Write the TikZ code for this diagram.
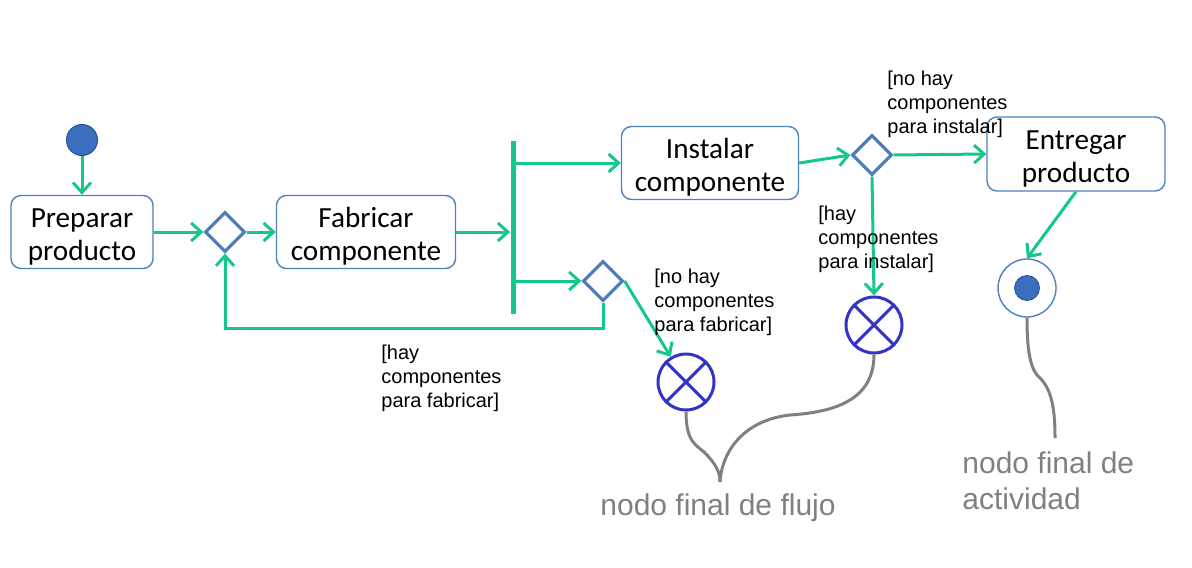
\documentclass[tikz,border=0pt]{standalone}
\usepackage{fontspec}
\setmainfont{Liberation Sans}
\newfontfamily\boxfont{Carlito}
\usetikzlibrary{arrows.meta,shapes.geometric,calc}
\definecolor{flowgreen}{RGB}{20,200,140}
\definecolor{decblue}{RGB}{79,125,185}
\definecolor{boxblue}{RGB}{79,129,189}
\definecolor{ffblue}{RGB}{51,51,200}
\definecolor{notegray}{RGB}{128,128,128}
\definecolor{dotblue}{RGB}{58,110,190}
\definecolor{dotedge}{RGB}{40,80,150}
\newcommand{\topstrut}{\rule{0pt}{14.5pt}}
\tikzset{
  act/.style={draw=boxblue, line width=0.7pt, rounded corners=5pt, fill=white, align=center,
    font=\boxfont\fontsize{14.6}{16.5}\selectfont, inner sep=0pt, minimum height=36.5pt},
  dec/.style={diamond, draw=decblue, line width=1.6pt, fill=white, minimum width=20pt,
    minimum height=20pt, inner sep=0pt},
  flow/.style={draw=flowgreen, line width=1.5pt, -{Straight Barb[length=5pt,width=9pt]}},
  guard/.style={font=\fontsize{10}{12}\selectfont, align=left, inner sep=0pt, anchor=west},
  note/.style={text=notegray, font=\fontsize{15}{18}\selectfont, inner sep=0pt, align=left},
  callout/.style={draw=notegray, line width=1.5pt},
  ffinal/.style={circle, draw=ffblue, line width=1.5pt, minimum size=28pt, inner sep=0pt, fill=white}
}
\begin{document}
\begin{tikzpicture}[x=0.5pt,y=-0.5pt]
\useasboundingbox (0,0) rectangle (1192,567);

% nodes
\node[circle, fill=dotblue, draw=dotedge, line width=0.5pt, minimum size=15.5pt, inner sep=0pt] (init) at (82,140) {};
\node[act, minimum width=71pt] (prep) at (82,232) {\topstrut Preparar\\producto};
\node[dec] (d1) at (225,232) {};
\node[act, minimum width=89.5pt] (fab) at (366,232) {\topstrut Fabricar\\componente};
\node[fill=flowgreen, minimum width=2.5pt, minimum height=86.5pt, inner sep=0pt] (bar) at (513,227.5) {};
\node[act, minimum width=88.5pt] (inst) at (710,163) {\topstrut Instalar\\componente};
\node[dec] (d2) at (603,281) {};
\node[dec] (d3) at (872,155) {};
\node[act, minimum width=89pt, minimum height=37pt] (ent) at (1076,154) {\topstrut Entregar\\producto};
\node[circle, draw=boxblue, line width=0.7pt, minimum size=29pt, inner sep=0pt, fill=white] (fin) at (1027,288) {};
\node[circle, fill=dotblue, draw=dotedge, line width=0.4pt, minimum size=12.5pt, inner sep=0pt] (findot) at (fin) {};
\node[ffinal] (ff1) at (686,382) {};
\node[ffinal] (ff2) at (874,325) {};
\draw[draw=ffblue, line width=1.5pt] (ff1.north west) -- (ff1.south east) (ff1.north east) -- (ff1.south west);
\draw[draw=ffblue, line width=1.5pt] (ff2.north west) -- (ff2.south east) (ff2.north east) -- (ff2.south west);

% connectors
\draw[flow] (init) -- (prep.north);
\draw[flow] (prep.east) -- (d1.west);
\draw[flow] (d1.east) -- (fab.west);
\draw[flow] (fab.east) -- (fab.east -| bar.west);
\draw[flow] (bar.east |- inst.west) -- (inst.west);
\draw[flow] (bar.east |- d2.west) -- (d2.west);
\coordinate (lp) at (603,328);
\draw[flow] (d2.south) -- (d2.south |- lp) -| (d1.south);
\draw[flow] (d2.east) -- (ff1);
\draw[flow] (inst.east) -- (d3.west);
\draw[flow] (d3.east) -- (ent.west);
\draw[flow] (d3.south) -- (ff2.north);
\draw[flow] (ent.south) -- (fin.north);

% guards
\node[guard] (g1) at (887,104) {[no hay\\componentes\\para instalar]};
\node[guard] (g2) at (818,239) {[hay\\componentes\\para instalar]};
\node[guard] (g3) at (654,302) {[no hay\\componentes\\para fabricar]};
\node[guard] (g4) at (381,378) {[hay\\componentes\\para fabricar]};

% callouts
\coordinate (join) at (720,482);
\draw[callout] (ff1.south) .. controls (686,445) and (698,445) .. (707,455) .. controls (716,465) and (720,472) .. (join);
\draw[callout] (ff2.south) .. controls (874,400) and (835,412) .. (790,415) .. controls (745,420) and (722,450) .. (join);
\node[note] (n1) at (718,508) {nodo final de flujo};
\coordinate (cend) at (1055,438);
\draw[callout] (fin.south) .. controls (1027,350) and (1030,370) .. (1040,378) .. controls (1052,390) and (1055,410) .. (cend);
\node[note, anchor=west] (n2) at (962,481) {nodo final de\\actividad};
\end{tikzpicture}
\end{document}
